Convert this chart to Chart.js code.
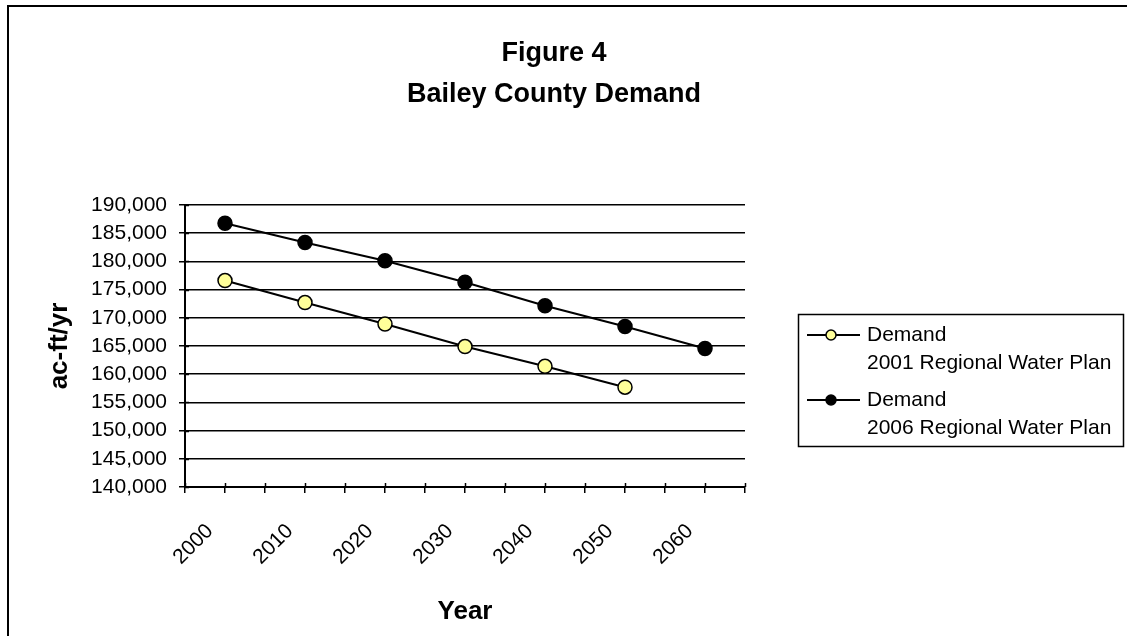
<!DOCTYPE html>
<html>
<head>
<meta charset="utf-8">
<script src="https://cdn.jsdelivr.net/npm/chart.js@4"></script>
<style>
  body { margin: 0; background: #fff; }
  #wrap { position: absolute; left: 0; top: 0; width: 1127px; height: 636px; }
</style>
</head>
<body>
<div id="wrap"><canvas id="chart" width="1127" height="636"></canvas></div>
<script>
// data
const years = [2000, 2010, 2020, 2030, 2040, 2050, 2060];
const demand2001 = [176600, 172700, 168900, 164900, 161400, 157700, null];
const demand2006 = [186750, 183350, 180100, 176300, 172150, 168450, 164550];
const seriesLabels = [
    ['Demand', '2001 Regional Water Plan'],
    ['Demand', '2006 Regional Water Plan']
];
const titleLines = ['Figure 4', 'Bailey County Demand'];
const yTicks = { min: 140000, max: 190000, step: 5000 };
const xRange = { min: 1995, max: 2065, step: 5 };

const FONT = '"Liberation Sans", Arial, sans-serif';

// title, legend and outer frame
const decor = {
    id: 'decor',
    afterDraw(chart) {
        const ctx = chart.ctx;
        const area = chart.chartArea;
        ctx.save();

        // frame of the chart
        ctx.strokeStyle = '#000';
        ctx.lineWidth = 2;
        ctx.strokeRect(8, 6, 1400, 900);

        // small tick parts inside the axes (cross ticks)
        ctx.lineWidth = 1.5;
        const ys = chart.scales.y;
        ys.ticks.forEach(t => {
            const py = Math.round(ys.getPixelForValue(t.value)) + 0.5;
            ctx.beginPath();
            ctx.moveTo(area.left, py);
            ctx.lineTo(area.left + 4, py);
            ctx.stroke();
        });
        const xs = chart.scales.x;
        xs.ticks.forEach(t => {
            const px = Math.round(xs.getPixelForValue(t.value)) + 0.5;
            ctx.beginPath();
            ctx.moveTo(px, area.bottom);
            ctx.lineTo(px, area.bottom - 4);
            ctx.stroke();
        });

        // title
        ctx.fillStyle = '#000';
        ctx.textAlign = 'center';
        ctx.textBaseline = 'alphabetic';
        ctx.font = 'bold 27px ' + FONT;
        ctx.fillText(titleLines[0], 554, 61);
        ctx.fillText(titleLines[1], 554, 102);

        // legend
        const lx = 798, ly = 314, lw = 325, lh = 132;
        ctx.fillStyle = '#fff';
        ctx.fillRect(lx, ly, lw, lh);
        ctx.strokeStyle = '#000';
        ctx.lineWidth = 1.5;
        ctx.strokeRect(lx + 0.5, ly + 0.5, lw, lh);

        ctx.font = '21px ' + FONT;
        ctx.textAlign = 'left';
        ctx.textBaseline = 'middle';
        chart.data.datasets.forEach((ds, i) => {
            const y0 = 335 + i * 65;
            ctx.strokeStyle = '#000';
            ctx.lineWidth = 2;
            ctx.beginPath();
            ctx.moveTo(807, y0);
            ctx.lineTo(860, y0);
            ctx.stroke();
            ctx.beginPath();
            ctx.arc(831, y0, 5, 0, Math.PI * 2);
            ctx.fillStyle = ds.pointBackgroundColor;
            ctx.fill();
            ctx.lineWidth = 1.5;
            ctx.stroke();
            ctx.fillStyle = '#000';
            ds.label.forEach((line, k) => ctx.fillText(line, 867, y0 + k * 28));
        });

        ctx.restore();
    }
};

const ctx = document.getElementById('chart').getContext('2d');
new Chart(ctx, {
    type: 'line',
    data: {
        datasets: [
            {
                label: seriesLabels[0],
                data: years.map((yr, i) => ({ x: yr, y: demand2001[i] })).filter(p => p.y !== null),
                borderColor: '#000',
                borderWidth: 2,
                pointBackgroundColor: '#FFFF99',
                pointBorderColor: '#000',
                pointBorderWidth: 1.5,
                pointRadius: 7,
                tension: 0
            },
            {
                label: seriesLabels[1],
                data: years.map((yr, i) => ({ x: yr, y: demand2006[i] })),
                borderColor: '#000',
                borderWidth: 2,
                pointBackgroundColor: '#000',
                pointBorderColor: '#000',
                pointBorderWidth: 1.5,
                pointRadius: 7,
                tension: 0
            }
        ]
    },
    options: {
        responsive: false,
        animation: false,
        layout: { padding: { left: 0, right: 382, top: 205, bottom: 0 } },
        plugins: {
            legend: { display: false },
            title: { display: false },
            tooltip: { enabled: false }
        },
        scales: {
            x: {
                type: 'linear',
                min: xRange.min,
                max: xRange.max,
                afterFit(scale) { scale.height = 149; },
                ticks: {
                    stepSize: xRange.step,
                    autoSkip: false,
                    minRotation: 45,
                    maxRotation: 45,
                    padding: 26,
                    labelOffset: -15,
                    color: '#000',
                    font: { family: FONT, size: 21 },
                    callback: v => (years.includes(v) ? String(v) : '')
                },
                grid: { drawOnChartArea: false, drawTicks: true, tickLength: 6, color: '#000', lineWidth: 1.5 },
                border: { display: true, color: '#000', width: 2 },
                title: {
                    display: true,
                    text: 'Year',
                    color: '#000',
                    font: { family: FONT, size: 26, weight: 'bold' },
                    padding: { top: 0, bottom: 9 }
                }
            },
            y: {
                min: yTicks.min,
                max: yTicks.max,
                afterFit(scale) { scale.width = 185; },
                ticks: {
                    stepSize: yTicks.step,
                    padding: 12,
                    color: '#000',
                    font: { family: FONT, size: 21 },
                    callback: v => v.toLocaleString('en-US')
                },
                grid: { color: '#000', lineWidth: 1.5, tickLength: 6 },
                border: { display: true, color: '#000', width: 2 },
                title: {
                    display: true,
                    text: 'ac-ft/yr',
                    color: '#000',
                    font: { family: FONT, size: 26, weight: 'bold' },
                    padding: { top: 44, bottom: 0 }
                }
            }
        }
    },
    plugins: [decor]
});
</script>
</body>
</html>
